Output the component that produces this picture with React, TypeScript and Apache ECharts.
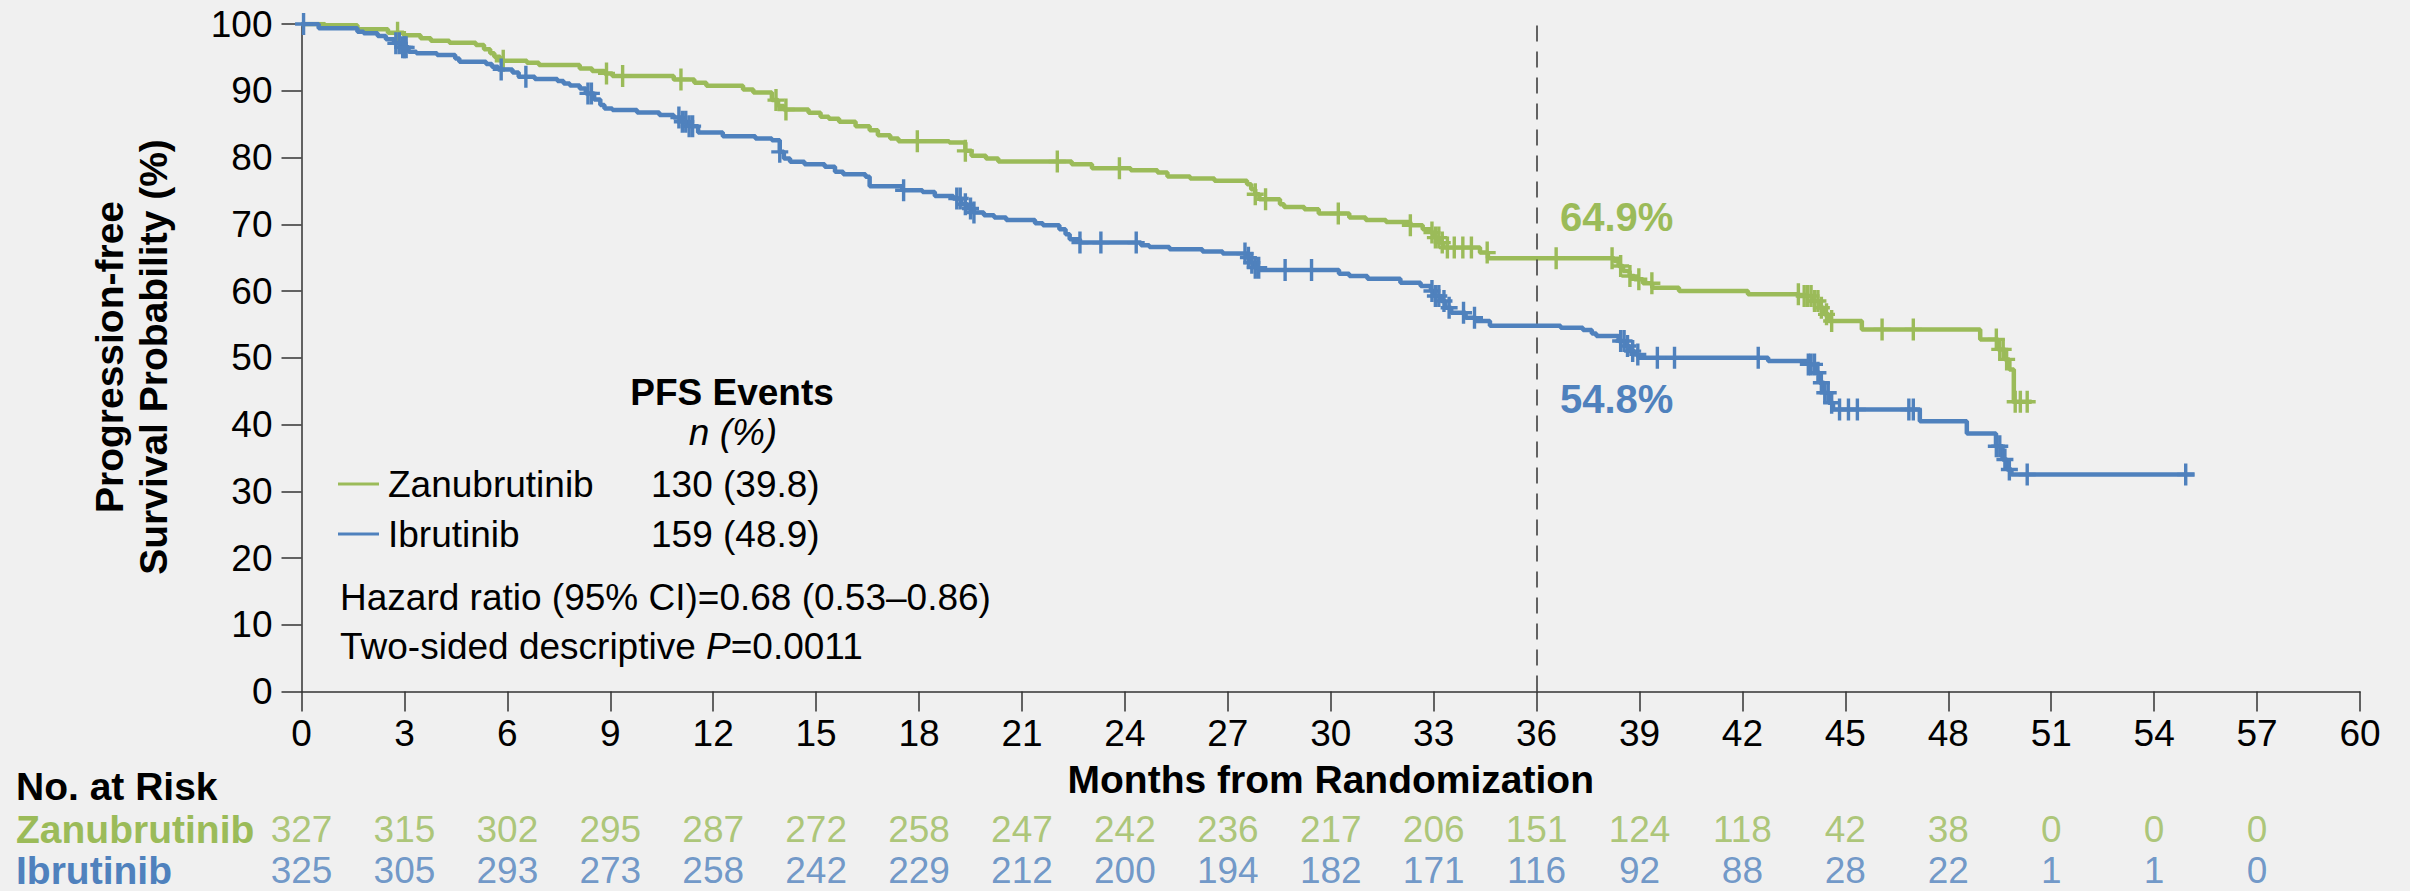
import React, { useEffect, useRef } from "react";
import * as echarts from "echarts";

const GREEN = "#9bbb59";
const BLUE = "#4f81bd";
const FONT = "'Liberation Sans', Arial, Helvetica, sans-serif";

// Kaplan–Meier step data: time (months) and survival (%) after the event
const zanuTimes = [0, 0.68, 1.63, 2.52, 2.98, 3.47, 3.77, 4.31, 5.08, 5.32, 5.5, 5.62, 5.79, 6.57, 6.92, 8.11, 8.47, 8.83, 9.06, 10.85, 11.45, 11.8, 12.87, 13.17, 13.71, 13.89, 14.06, 14.78, 15.13, 15.37, 15.67, 16.15, 16.56, 16.8, 17.16, 17.4, 18.88, 19.35, 19.53, 19.95, 20.31, 22.45, 23.04, 24.17, 24.95, 25.24, 25.9, 26.61, 27.56, 27.68, 27.8, 27.92, 28.52, 28.64, 29.23, 29.65, 30.54, 31.02, 31.61, 32.32, 32.68, 32.92, 33.04, 33.16, 33.28, 34.35, 34.58, 38.26, 38.39, 38.52, 38.71, 38.85, 39.1, 39.37, 40.15, 42.16, 43.66, 44.05, 44.25, 44.38, 44.51, 45.48, 48.93, 49.45, 49.65, 49.78, 49.91, 50.43];
const zanuSurv = [100, 99.8, 99.2, 98.7, 98.3, 97.85, 97.5, 97.2, 96.85, 96.2, 95.6, 95.1, 94.5, 94.2, 93.85, 93.35, 92.95, 92.6, 92.2, 91.7, 91.2, 90.75, 90.2, 89.75, 88.6, 87.7, 87.2, 86.7, 86.1, 85.8, 85.35, 84.7, 84.1, 83.35, 82.85, 82.45, 82.25, 81.0, 80.25, 79.85, 79.4, 79.0, 78.4, 78.1, 77.75, 77.15, 76.85, 76.5, 76.0, 75.25, 74.5, 73.75, 73.0, 72.6, 72.25, 71.6, 71.0, 70.65, 70.35, 69.85, 69.25, 68.75, 68.0, 67.25, 66.5, 65.75, 64.9, 64.5, 63.75, 63.0, 62.25, 61.75, 61.15, 60.5, 60.0, 59.5, 59.25, 58.5, 57.5, 56.5, 55.5, 54.25, 52.75, 51.25, 49.75, 48.25, 43.4, 43.4];
const zanuCensor = [2.8, 5.88, 8.89, 9.36, 11.06, 13.83, 14.12, 17.95, 19.35, 22.03, 23.84, 27.8, 28.1, 30.22, 32.32, 32.95, 33.05, 33.15, 33.25, 33.4, 33.6, 33.85, 34.1, 34.56, 36.57, 38.2, 38.45, 38.72, 38.98, 39.36, 43.63, 43.8, 43.9, 44.0, 44.1, 44.2, 44.3, 44.45, 44.6, 46.07, 46.98, 49.4, 49.5, 49.6, 49.7, 49.95, 50.1, 50.3];

const ibruTimes = [0, 0.5, 1.63, 1.81, 2.22, 2.46, 2.7, 2.88, 3.12, 3.35, 3.95, 4.48, 4.6, 5.38, 5.55, 5.73, 6.15, 6.33, 6.8, 7.46, 7.64, 7.82, 8.11, 8.29, 8.53, 8.71, 8.83, 9.06, 9.78, 10.43, 10.85, 11.09, 11.27, 11.56, 12.28, 13.23, 13.71, 13.94, 14.06, 14.24, 14.66, 15.25, 15.55, 15.79, 16.44, 16.56, 17.51, 18.1, 18.46, 19.0, 19.23, 19.41, 19.59, 19.89, 20.19, 20.54, 21.38, 21.61, 22.09, 22.27, 22.39, 22.69, 24.47, 24.71, 25.3, 26.26, 26.85, 27.56, 27.68, 27.8, 27.92, 30.24, 30.54, 31.07, 32.03, 32.62, 32.92, 33.04, 33.22, 33.34, 33.51, 33.93, 34.23, 34.64, 36.7, 37.35, 37.61, 37.74, 38.39, 38.58, 38.71, 38.85, 38.97, 42.75, 43.92, 44.12, 44.25, 44.38, 44.51, 44.64, 47.17, 48.54, 49.39, 49.58, 49.71, 49.84, 55.18];
const ibruSurv = [100, 99.35, 98.85, 98.6, 98.2, 97.7, 97.1, 96.5, 95.85, 95.6, 95.35, 94.85, 94.35, 94.0, 93.6, 93.2, 92.75, 92.1, 91.75, 91.45, 91.1, 90.8, 90.35, 89.6, 88.7, 87.85, 87.35, 87.1, 86.75, 86.35, 86.0, 85.35, 84.7, 83.75, 83.2, 82.85, 82.6, 80.85, 79.85, 79.35, 79.0, 78.6, 77.85, 77.5, 77.1, 75.7, 75.1, 74.85, 74.25, 73.85, 73.0, 72.35, 71.75, 71.35, 71.0, 70.65, 70.15, 69.85, 69.25, 68.5, 67.75, 67.25, 66.85, 66.6, 66.25, 65.9, 65.6, 65.0, 64.25, 63.5, 63.15, 62.6, 62.25, 61.85, 61.25, 60.75, 60.0, 59.25, 58.5, 57.5, 56.75, 56.0, 55.5, 54.8, 54.5, 54.15, 53.65, 53.25, 52.5, 51.75, 51.0, 50.5, 50.0, 49.5, 49.0, 47.75, 46.25, 44.75, 43.25, 42.25, 40.5, 38.65, 36.75, 34.75, 33.25, 32.5, 32.5];
const ibruCensor = [0.06, 2.75, 2.85, 2.95, 3.0, 3.05, 5.82, 6.54, 8.35, 8.45, 11.0, 11.1, 11.2, 11.3, 11.4, 13.94, 17.55, 19.1, 19.2, 19.35, 19.5, 19.6, 22.69, 23.3, 24.33, 27.5, 27.6, 27.7, 27.8, 27.9, 28.67, 29.44, 32.95, 33.05, 33.15, 33.3, 33.45, 33.87, 34.19, 38.45, 38.55, 38.65, 38.8, 38.95, 39.52, 40.02, 42.46, 43.92, 44.0, 44.1, 44.2, 44.3, 44.4, 44.5, 44.6, 44.83, 45.09, 45.35, 46.85, 46.98, 49.4, 49.5, 49.65, 49.78, 50.3, 54.92];

// Number at risk table
const riskMonths = [0, 3, 6, 9, 12, 15, 18, 21, 24, 27, 30, 33, 36, 39, 42, 45, 48, 51, 54, 57];
const zanuRisk = [327, 315, 302, 295, 287, 272, 258, 247, 242, 236, 217, 206, 151, 124, 118, 42, 38, 0, 0, 0];
const ibruRisk = [325, 305, 293, 273, 258, 242, 229, 212, 200, 194, 182, 171, 116, 92, 88, 28, 22, 1, 1, 0];
const riskRows = ["Zanubrutinib", "Ibrutinib"];

// Landmark
const landmarkMonth = 36;
const zanuLandmark = "64.9%";
const ibruLandmark = "54.8%";

const PLUS = "path://M-1.7,-11 L1.7,-11 L1.7,-1.7 L8.5,-1.7 L8.5,1.7 L1.7,1.7 L1.7,11 L-1.7,11 L-1.7,1.7 L-8.5,1.7 L-8.5,-1.7 L-1.7,-1.7 Z";

function zip(t: number[], s: number[]) {
  return t.map((x, i) => [x, s[i]]);
}
function survAt(t: number[], s: number[], x: number) {
  let v = s[0];
  for (let i = 0; i < t.length; i++) {
    if (t[i] <= x) v = s[i];
    else break;
  }
  return v;
}

function txt(text: string, x: number, y: number, o: any = {}) {
  return {
    type: "text",
    x,
    y,
    rotation: o.rotation || 0,
    silent: true,
    z: 10,
    style: {
      text,
      fill: o.fill || "#000",
      fontSize: o.size || 37,
      fontFamily: FONT,
      fontWeight: o.weight || "normal",
      fontStyle: o.fstyle || "normal",
      align: o.align || "left",
      verticalAlign: "middle",
      rich: o.rich,
    },
  };
}

export default function App() {
  const ref = useRef<HTMLDivElement>(null);
  useEffect(() => {
    document.body.style.margin = "0";
    if (!ref.current) return;
    const chart = echarts.init(ref.current, null, { renderer: "svg" });
    const axisLineStyle = { color: "#333", width: 1.5 };
    const option: any = {
      animation: false,
      backgroundColor: "#f0f0f0",
      textStyle: { fontFamily: FONT },
      grid: [
        { left: 301.5, top: 24, width: 2058.5, height: 667.5 },
        { left: 301.5, top: 808.5, width: 2058.5, height: 86 },
      ],
      xAxis: [
        {
          type: "value",
          gridIndex: 0,
          min: 0,
          max: 60,
          interval: 3,
          axisLine: { show: true, lineStyle: axisLineStyle },
          axisTick: { show: true, length: 20, lineStyle: axisLineStyle },
          axisLabel: { fontSize: 37, color: "#000", margin: 23, fontFamily: FONT },
          splitLine: { show: false },
          name: "Months from Randomization",
          nameLocation: "middle",
          nameGap: 68,
          nameTextStyle: { fontSize: 39, fontWeight: "bold", color: "#000", fontFamily: FONT },
        },
        { type: "value", gridIndex: 1, min: 0, max: 60, show: false },
      ],
      yAxis: [
        {
          type: "value",
          gridIndex: 0,
          min: 0,
          max: 100,
          interval: 10,
          axisLine: { show: true, lineStyle: axisLineStyle },
          axisTick: { show: true, length: 20, lineStyle: axisLineStyle },
          axisLabel: { fontSize: 37, color: "#000", margin: 29, fontFamily: FONT },
          splitLine: { show: false },
        },
        {
          type: "category",
          gridIndex: 1,
          data: riskRows,
          inverse: true,
          axisLine: { show: false },
          axisTick: { show: false },
          splitLine: { show: false },
          axisLabel: {
            show: true,
            align: "left",
            margin: 285.5,
            formatter: (v: string) => (v === riskRows[0] ? `{z|${v}}` : `{i|${v}}`),
            rich: {
              z: { color: GREEN, fontSize: 39, fontWeight: "bold", fontFamily: FONT },
              i: { color: BLUE, fontSize: 39, fontWeight: "bold", fontFamily: FONT },
            },
          },
        },
      ],
      series: [
        {
          type: "line",
          name: "Zanubrutinib",
          step: "end",
          data: zip(zanuTimes, zanuSurv),
          showSymbol: false,
          symbol: "none",
          lineStyle: { color: GREEN, width: 4.5 },
          itemStyle: { color: GREEN },
          z: 3,
          markLine: {
            silent: true,
            symbol: ["none", "none"],
            label: { show: false },
            lineStyle: { color: "#333", width: 1.5, type: [16, 10] },
            data: [{ xAxis: landmarkMonth }],
          },
        },
        {
          type: "scatter",
          name: "Zanubrutinib censored",
          data: zanuCensor.map((c) => [c, survAt(zanuTimes, zanuSurv, c)]),
          symbol: PLUS,
          symbolSize: [17, 22],
          itemStyle: { color: GREEN, opacity: 1 },
          z: 4,
        },
        {
          type: "line",
          name: "Ibrutinib",
          step: "end",
          data: zip(ibruTimes, ibruSurv),
          showSymbol: false,
          symbol: "none",
          lineStyle: { color: BLUE, width: 4.5 },
          itemStyle: { color: BLUE },
          z: 5,
        },
        {
          type: "scatter",
          name: "Ibrutinib censored",
          data: ibruCensor.map((c) => [c, survAt(ibruTimes, ibruSurv, c)]),
          symbol: PLUS,
          symbolSize: [17, 22],
          itemStyle: { color: BLUE, opacity: 1 },
          z: 6,
        },
        {
          type: "scatter",
          xAxisIndex: 1,
          yAxisIndex: 1,
          data: riskMonths.map((m, i) => [m, 0, zanuRisk[i]]),
          symbolSize: 1,
          itemStyle: { color: "rgba(0,0,0,0)" },
          label: {
            show: true,
            position: "inside",
            formatter: (p: any) => String(p.value[2]),
            fontSize: 37,
            color: GREEN,
            fontFamily: FONT,
          },
        },
        {
          type: "scatter",
          xAxisIndex: 1,
          yAxisIndex: 1,
          data: riskMonths.map((m, i) => [m, 1, ibruRisk[i]]),
          symbolSize: 1,
          itemStyle: { color: "rgba(0,0,0,0)" },
          label: {
            show: true,
            position: "inside",
            formatter: (p: any) => String(p.value[2]),
            fontSize: 37,
            color: BLUE,
            fontFamily: FONT,
          },
        },
      ],
      graphic: [
        txt("Progression-free", 109, 357, { size: 39, weight: "bold", align: "center", rotation: Math.PI / 2 }),
        txt("Survival Probability (%)", 153.5, 357, { size: 39, weight: "bold", align: "center", rotation: Math.PI / 2 }),
        txt("No. at Risk", 16, 786, { size: 39, weight: "bold" }),
        txt("PFS Events", 732, 392, { weight: "bold", align: "center" }),
        txt("n (%)", 733, 432, { fstyle: "italic", align: "center" }),
        {
          type: "line",
          silent: true,
          shape: { x1: 338, y1: 484, x2: 379, y2: 484 },
          style: { stroke: GREEN, lineWidth: 3 },
        },
        {
          type: "line",
          silent: true,
          shape: { x1: 338, y1: 534, x2: 379, y2: 534 },
          style: { stroke: BLUE, lineWidth: 3 },
        },
        txt("Zanubrutinib", 388, 484),
        txt("130 (39.8)", 651, 484),
        txt("Ibrutinib", 388, 534),
        txt("159 (48.9)", 651, 534),
        txt("Hazard ratio (95% CI)=0.68 (0.53\u20130.86)", 340, 597),
        txt("{n|Two-sided descriptive }{it|P}{n|=0.0011}", 340, 646, {
          rich: {
            n: { fontSize: 37, fontFamily: FONT, fontStyle: "normal", fill: "#000", color: "#000" },
            it: { fontSize: 37, fontFamily: FONT, fontStyle: "italic", fill: "#000", color: "#000" },
          },
        }),
        txt(zanuLandmark, 1560, 217, { size: 40, weight: "bold", fill: GREEN }),
        txt(ibruLandmark, 1560, 399, { size: 40, weight: "bold", fill: BLUE }),
      ],
    };
    chart.setOption(option);
    return () => chart.dispose();
  }, []);
  return <div ref={ref} style={{ width: 2410, height: 891 }} />;
}
